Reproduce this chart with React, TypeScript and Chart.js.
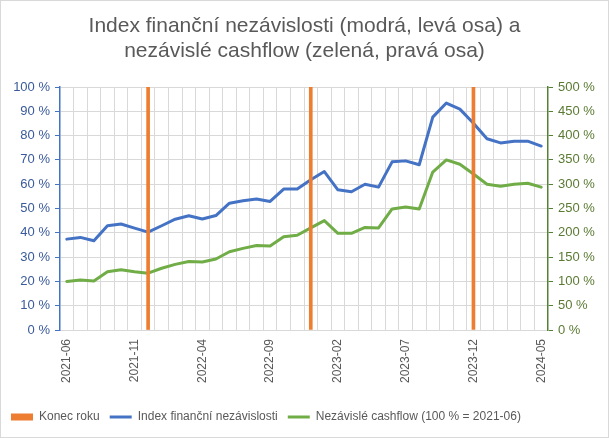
import { useEffect, useRef } from "react"
import { Chart, registerables } from "chart.js"
Chart.register(...registerables)

const months = [
  "2021-06", "2021-07", "2021-08", "2021-09", "2021-10", "2021-11", "2021-12",
  "2022-01", "2022-02", "2022-03", "2022-04", "2022-05", "2022-06", "2022-07",
  "2022-08", "2022-09", "2022-10", "2022-11", "2022-12", "2023-01", "2023-02",
  "2023-03", "2023-04", "2023-05", "2023-06", "2023-07", "2023-08", "2023-09",
  "2023-10", "2023-11", "2023-12", "2024-01", "2024-02", "2024-03", "2024-04",
  "2024-05",
]

// left axis, % of target
const independenceIndex = [
  37.4, 38.1, 36.7, 42.9, 43.6, 41.9, 40.3, 42.9, 45.6, 47.0, 45.7, 47.1,
  52.2, 53.2, 53.9, 52.9, 58.0, 58.0, 61.8, 65.2, 57.7, 56.9, 60.0, 58.8,
  69.2, 69.6, 68.0, 87.6, 93.4, 90.9, 85.1, 78.7, 77.0, 77.7, 77.7, 75.7,
]

// right axis, 100 % = 2021-06
const independentCashflow = [
  100, 103, 101, 120, 124, 120, 117, 127, 135, 141, 140, 146,
  161, 168, 174, 173, 192, 195, 210, 225, 199, 199, 211, 210,
  249, 253, 249, 325, 350, 341, 321, 300, 296, 300, 302, 294,
]

const yearEndMonths = ["2021-12", "2022-12", "2023-12"]

const leftTicks = [0, 10, 20, 30, 40, 50, 60, 70, 80, 90, 100]
const rightTicks = [0, 50, 100, 150, 200, 250, 300, 350, 400, 450, 500]

const FONT = "'Liberation Sans', Arial, sans-serif"

export default function App() {
  const chartRef = useRef<HTMLCanvasElement>(null)
  const chartInstance = useRef<Chart | null>(null)

  useEffect(() => {
    if (!chartRef.current) return
    if (chartInstance.current) chartInstance.current.destroy()
    const ctx = chartRef.current.getContext("2d")
    if (!ctx) return

    const yearEnd = months.map((m) => (yearEndMonths.includes(m) ? 100 : null))

    chartInstance.current = new Chart(ctx, {
      type: "bar",
      data: {
        labels: months,
        datasets: [
          {
            type: "bar",
            label: "Konec roku",
            data: yearEnd,
            backgroundColor: "#ED7D31",
            borderWidth: 0,
            barThickness: 3,
            yAxisID: "y",
            order: 0,
          },
          {
            type: "line",
            label: "Index finanční nezávislosti",
            data: independenceIndex,
            borderColor: "#4472C4",
            backgroundColor: "#4472C4",
            borderWidth: 3,
            pointRadius: 0,
            tension: 0,
            borderJoinStyle: "round",
            borderCapStyle: "round",
            yAxisID: "y",
            order: 1,
          },
          {
            type: "line",
            label: "Nezávislé cashflow (100 % = 2021-06)",
            data: independentCashflow,
            borderColor: "#70AD47",
            backgroundColor: "#70AD47",
            borderWidth: 3,
            pointRadius: 0,
            tension: 0,
            borderJoinStyle: "round",
            borderCapStyle: "round",
            yAxisID: "y1",
            order: 1,
          },
        ],
      },
      options: {
        animation: false,
        responsive: true,
        maintainAspectRatio: false,
        layout: { padding: { left: 0, right: 0, top: 0, bottom: 4 } },
        scales: {
          x: {
            offset: true,
            grid: { color: "#d9d9d9", offset: true, drawTicks: false },
            border: { color: "#d9d9d9" },
            ticks: {
              autoSkip: false,
              minRotation: 90,
              maxRotation: 90,
              padding: 9,
              color: "#595959",
              font: { family: FONT, size: 12 },
              callback: (_v: any, i: number) => (i % 5 === 0 ? months[i] : ""),
            },
            afterFit: (s: any) => {
              s.height = 71
            },
          },
          y: {
            position: "left",
            min: 0,
            max: 100,
            afterBuildTicks: (s: any) => {
              s.ticks = leftTicks.map((v) => ({ value: v }))
            },
            grid: { color: "#d9d9d9", tickColor: "#4472C4", tickLength: 5 },
            border: { color: "#4472C4", width: 1.5 },
            ticks: {
              padding: 5,
              color: "#3A5A9B",
              font: { family: FONT, size: 13 },
              callback: (v: any) => v + " %",
            },
            afterFit: (s: any) => {
              s.width = 59
            },
          },
          y1: {
            position: "right",
            min: 0,
            max: 500,
            afterBuildTicks: (s: any) => {
              s.ticks = rightTicks.map((v) => ({ value: v }))
            },
            grid: { drawOnChartArea: false, color: "#548235", tickLength: 5 },
            border: { color: "#548235", width: 1.5 },
            ticks: {
              padding: 5,
              color: "#5A7A32",
              font: { family: FONT, size: 13 },
              callback: (v: any) => v + " %",
            },
            afterFit: (s: any) => {
              s.width = 60
            },
          },
        },
        plugins: {
          title: {
            display: true,
            text: [
              "Index finanční nezávislosti (modrá, levá osa) a",
              "nezávislé cashflow (zelená, pravá osa)",
            ],
            color: "#595959",
            font: { family: FONT, size: 21, weight: "normal", lineHeight: 25 / 21 },
            padding: { top: 12.5, bottom: 23.5 },
          },
          legend: {
            position: "bottom",
            align: "start",
            labels: {
              usePointStyle: true,
              pointStyleWidth: 22,
              boxHeight: 7,
              padding: 10,
              color: "#595959",
              font: { family: FONT, size: 12 },
              generateLabels: (chart: Chart) => {
                const items = Chart.defaults.plugins.legend.labels.generateLabels(chart)
                items.forEach((it: any) => {
                  if (it.datasetIndex === 0) {
                    it.pointStyle = "rect"
                    it.lineWidth = 0
                  } else {
                    it.pointStyle = "line"
                    it.lineWidth = 3
                  }
                })
                return items
              },
            },
          },
          tooltip: { enabled: false },
        },
      },
    })

    return () => {
      if (chartInstance.current) {
        chartInstance.current.destroy()
        chartInstance.current = null
      }
    }
  }, [])

  return (
    <div
      style={{
        position: "fixed",
        left: 0,
        top: 0,
        width: 609,
        height: 438,
        border: "1px solid #d9d9d9",
        boxSizing: "border-box",
        background: "#fff",
      }}
    >
      <canvas ref={chartRef}></canvas>
    </div>
  )
}
